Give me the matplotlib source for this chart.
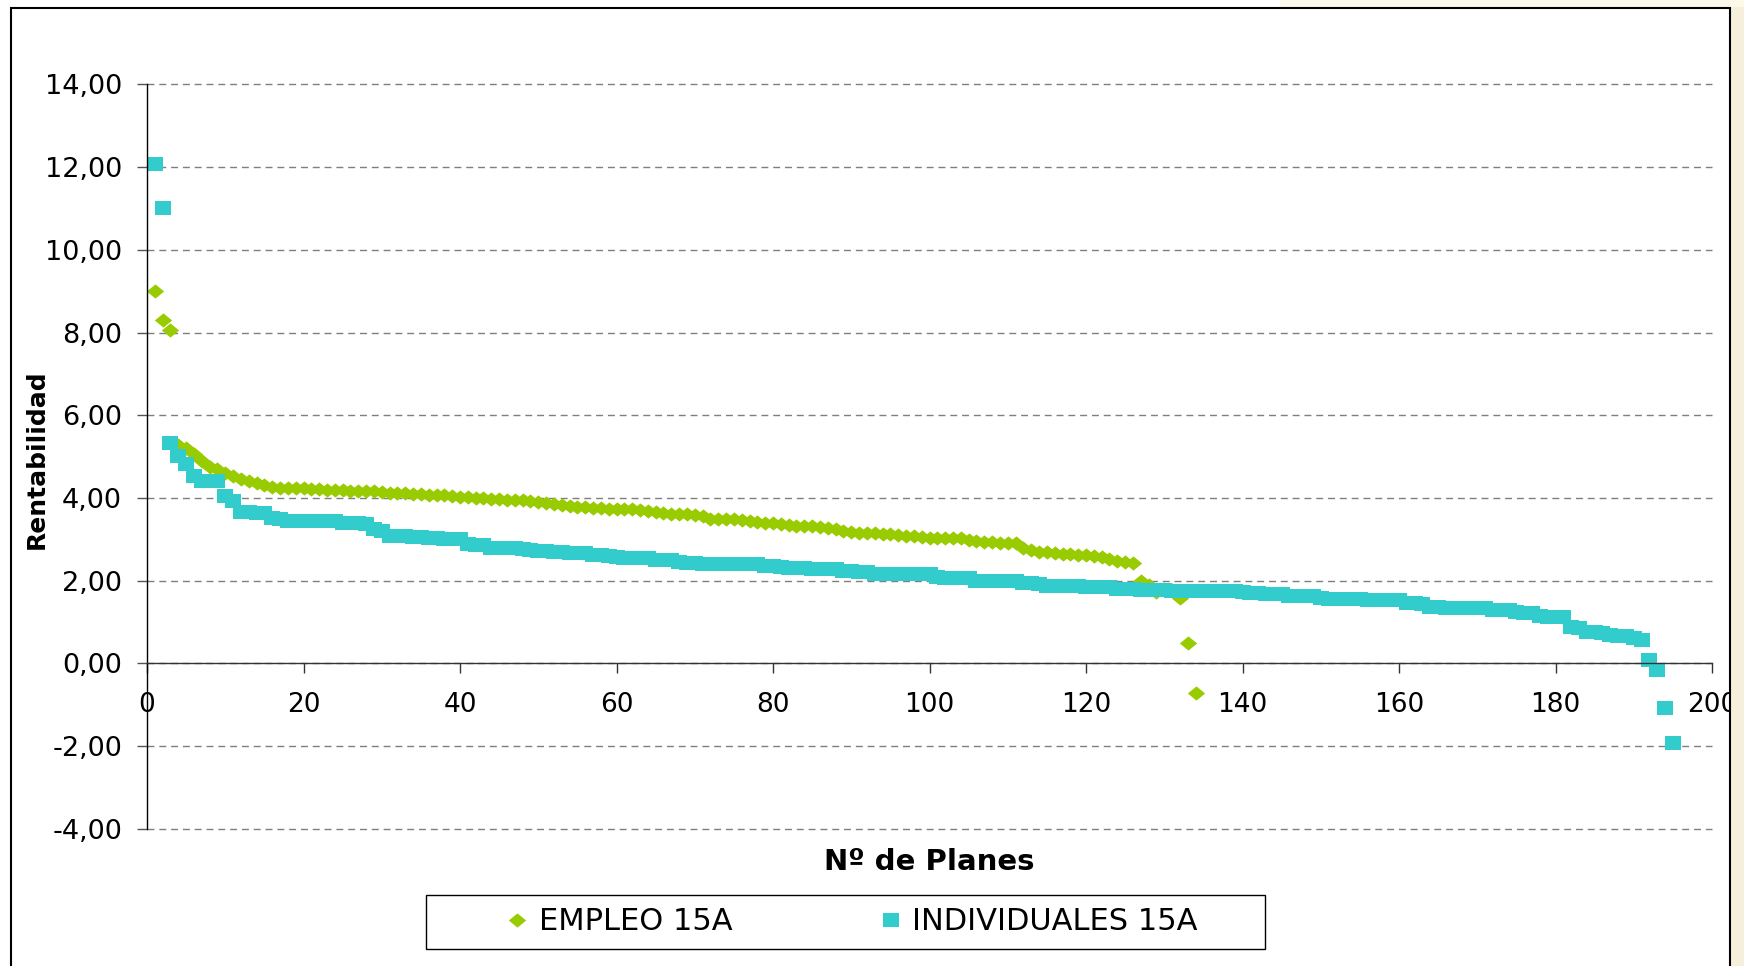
import numpy as np
import matplotlib
matplotlib.use("Agg")
import matplotlib.pyplot as plt
from matplotlib.patches import Rectangle


# ================== DATOS ==================
empleo = [
    9.00, 8.30, 8.07, 5.29, 5.21, 5.05, 4.89, 4.75, 4.69, 4.61,
    4.53, 4.46, 4.41, 4.35, 4.30, 4.27, 4.25, 4.25, 4.24, 4.24,
    4.22, 4.21, 4.20, 4.19, 4.18, 4.17, 4.17, 4.16, 4.16, 4.15,
    4.13, 4.12, 4.11, 4.10, 4.09, 4.08, 4.07, 4.06, 4.04, 4.02,
    4.01, 4.00, 3.99, 3.98, 3.97, 3.96, 3.95, 3.94, 3.92, 3.91,
    3.88, 3.85, 3.82, 3.80, 3.79, 3.77, 3.76, 3.75, 3.74, 3.74,
    3.73, 3.72, 3.70, 3.68, 3.66, 3.64, 3.62, 3.61, 3.60, 3.59,
    3.57, 3.50, 3.49, 3.48, 3.48, 3.47, 3.45, 3.42, 3.40, 3.39,
    3.37, 3.35, 3.33, 3.32, 3.31, 3.29, 3.28, 3.24, 3.20, 3.18,
    3.16, 3.15, 3.14, 3.13, 3.12, 3.11, 3.09, 3.07, 3.05, 3.04,
    3.04, 3.04, 3.03, 3.02, 2.98, 2.96, 2.94, 2.93, 2.92, 2.91,
    2.90, 2.80, 2.74, 2.70, 2.68, 2.66, 2.65, 2.64, 2.63, 2.62,
    2.60, 2.58, 2.53, 2.48, 2.45, 2.43,
    1.98, 1.90, 1.72, 1.80, 1.78, 1.57, 0.50, -0.72,
]

individuales = [
    12.07, 11.02, 5.33, 5.01, 4.83, 4.54, 4.40, 4.40, 4.40, 4.04,
    3.92, 3.67, 3.65, 3.64, 3.63, 3.52, 3.49, 3.45, 3.44, 3.44,
    3.44, 3.44, 3.43, 3.43, 3.40, 3.40, 3.39, 3.38, 3.25, 3.20,
    3.08, 3.07, 3.07, 3.06, 3.05, 3.03, 3.02, 3.01, 3.01, 3.00,
    2.88, 2.86, 2.85, 2.80, 2.79, 2.79, 2.78, 2.77, 2.75, 2.72,
    2.71, 2.70, 2.68, 2.67, 2.67, 2.66, 2.62, 2.61, 2.60, 2.56,
    2.55, 2.55, 2.54, 2.54, 2.50, 2.50, 2.49, 2.44, 2.43, 2.43,
    2.41, 2.41, 2.41, 2.41, 2.40, 2.40, 2.40, 2.39, 2.35, 2.35,
    2.34, 2.30, 2.30, 2.30, 2.29, 2.29, 2.29, 2.28, 2.23, 2.23,
    2.22, 2.22, 2.17, 2.17, 2.17, 2.17, 2.16, 2.16, 2.16, 2.15,
    2.08, 2.07, 2.07, 2.06, 2.06, 2.00, 1.99, 1.99, 1.99, 1.98,
    1.98, 1.93, 1.93, 1.92, 1.88, 1.88, 1.88, 1.87, 1.87, 1.85,
    1.85, 1.84, 1.84, 1.79, 1.79, 1.79, 1.78, 1.78, 1.78, 1.77,
    1.75, 1.75, 1.75, 1.75, 1.75, 1.74, 1.74, 1.74, 1.74, 1.73,
    1.69, 1.69, 1.68, 1.68, 1.67, 1.63, 1.63, 1.63, 1.62, 1.57,
    1.56, 1.56, 1.56, 1.55, 1.55, 1.53, 1.53, 1.53, 1.52, 1.52,
    1.46, 1.45, 1.44, 1.35, 1.35, 1.34, 1.34, 1.34, 1.34, 1.33,
    1.33, 1.30, 1.29, 1.29, 1.23, 1.22, 1.21, 1.14, 1.13, 1.13,
    1.12, 0.87, 0.85, 0.76, 0.75, 0.74, 0.68, 0.67, 0.66, 0.60,
    0.57, 0.08, -0.15, -1.08, -1.92,
]

nombres = ["EMPLEO 15A", "INDIVIDUALES 15A"]
colores = ["#99CC00", "#33CCCC"]

yticks = [-4, -2, 0, 2, 4, 6, 8, 10, 12, 14]
xticks = [0, 20, 40, 60, 80, 100, 120, 140, 160, 180, 200]

x_emp = np.arange(1, len(empleo) + 1)
x_ind = np.arange(1, len(individuales) + 1)

# marcadores (un poco aplastados, como en la imagen)
rombo = [(-1, 0), (0, 0.82), (1, 0), (0, -0.82), (-1, 0)]
cuadro = [(-1, -0.87), (1, -0.87), (1, 0.87), (-1, 0.87), (-1, -0.87)]


# ================== FIGURA ==================
W, H = 1744, 966
fig = plt.figure(figsize=(W / 100, H / 100), dpi=100)
fig.patch.set_facecolor("white")

# fondo crema fuera del grafico
fig.patches.append(Rectangle((1731 / W, 0), 1, 1, transform=fig.transFigure,
                             facecolor="#f5efdc", edgecolor="none", zorder=0))
fig.patches.append(Rectangle((1280 / W, 1 - 7 / H), 1, 1, transform=fig.transFigure,
                             facecolor="#fcf8ea", edgecolor="none", zorder=0))
# borde del area del grafico
fig.patches.append(Rectangle((11 / W, -0.05), (1730 - 11) / W, 1.05 - 8 / H,
                             transform=fig.transFigure, facecolor="none",
                             edgecolor="black", linewidth=1.5, zorder=1))

ax = fig.add_axes([147 / W, 1 - 828.7 / H, (1712 - 147) / W, 744.3 / H])
ax.set_facecolor("none")

ax.plot(x_emp, empleo, linestyle="none", marker=rombo, markersize=12.5,
        color=colores[0], markeredgewidth=0, label=nombres[0])
ax.plot(x_ind, individuales, linestyle="none", marker=cuadro, markersize=11,
        color=colores[1], markeredgewidth=0, label=nombres[1])

ax.set_xlim(0, 200)
ax.set_ylim(-4, 14)
ax.set_xticks(xticks)
ax.set_yticks(yticks)
ax.set_xticklabels([str(v) for v in xticks])
ax.set_yticklabels([f"{v:.2f}".replace(".", ",") for v in yticks])

ax.yaxis.grid(True, color="#7f7f7f", linestyle=(0, (5, 3.5)), linewidth=1.0)
for g in ax.get_ygridlines():
    g.set_clip_on(False)
ax.spines["top"].set_visible(False)
ax.spines["right"].set_visible(False)
ax.spines["bottom"].set_position(("data", 0))
ax.spines["bottom"].set_color("#333333")
ax.spines["left"].set_color("black")
ax.spines["left"].set_linewidth(1.0)
ax.spines["bottom"].set_linewidth(1.0)

ax.tick_params(axis="y", direction="out", length=7, width=1, color="#555555",
               pad=11, labelsize=19.5)
ax.tick_params(axis="x", direction="out", length=7, width=1, color="#333333",
               pad=14, labelsize=19)

ax.set_xlabel("Nº de Planes", fontsize=21, fontweight="bold")
ax.xaxis.set_label_coords(0.5, (828.7 - 862) / 744.3)
ax.xaxis.label.set_va("center")
ax.set_ylabel("Rentabilidad", fontsize=18, fontweight="bold")
ax.yaxis.set_label_coords((37 - 147) / 1565, (828.7 - 459) / 744.3)
ax.yaxis.label.set_va("center")


# ================== LEYENDA ==================
fig.patches.append(Rectangle((426 / W, 1 - 949 / H), 839 / W, 54 / H,
                             transform=fig.transFigure, facecolor="white",
                             edgecolor="black", linewidth=1.0, zorder=2))
fig.legend(loc="center", bbox_to_anchor=(853 / W, 1 - 922 / H), ncol=2,
           frameon=False, fontsize=22, handlelength=0.6, handletextpad=0.4,
           columnspacing=4.9)

fig.savefig("out.png", dpi=100, facecolor=fig.get_facecolor())
